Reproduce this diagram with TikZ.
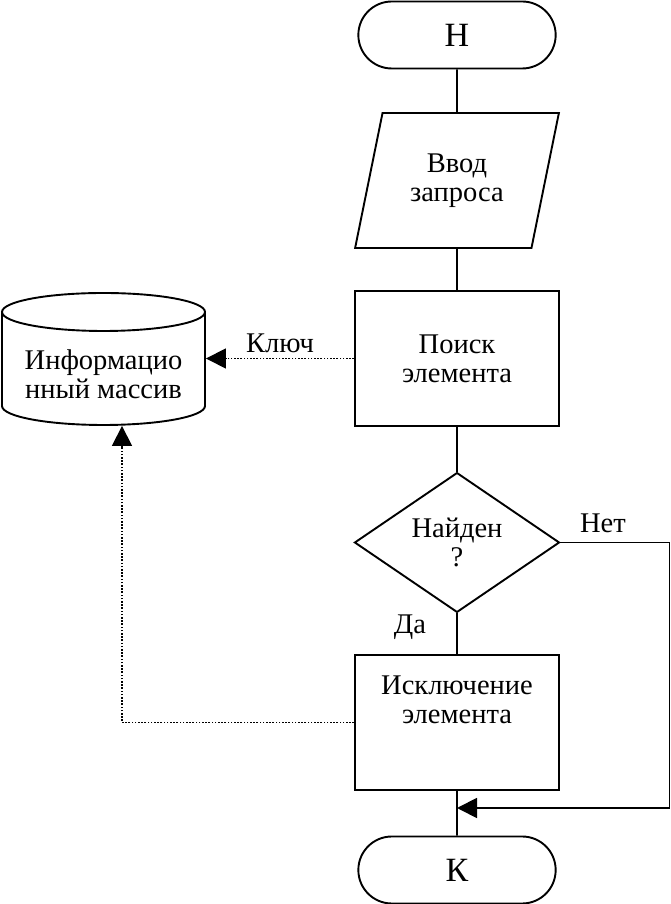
\documentclass[tikz,border=0pt]{standalone}
\usepackage{fontspec}
\setmainfont{Liberation Serif}
\usetikzlibrary{shapes.geometric, shapes.misc, arrows.meta}

\begin{document}
\begin{tikzpicture}[x=1pt, y=1pt, line width=1.9pt,
    every node/.style={font=\fontsize{28.5}{29}\selectfont, align=center},
    term/.style={draw, rounded rectangle, minimum width=204pt, minimum height=67pt, font=\fontsize{34}{36}\selectfont},
    proc/.style={draw, rectangle, minimum width=204pt, minimum height=135pt},
    io/.style={draw, trapezium, trapezium stretches=true, trapezium left angle=73, trapezium right angle=107, minimum width=204pt, minimum height=135pt},
    decision/.style={draw, diamond, inner sep=0pt, minimum width=205pt, minimum height=135pt},
    tip/.style={-{Triangle[length=20pt, width=20pt]}},
    link/.style={line width=1.6pt, dash pattern=on 1.6pt off 1.6pt}]
    \useasboundingbox (0, 0) rectangle (671, 904);

    % main flow
    \node[term] (start) at (457, 869) {Н};
    \node[io] (input) at (457, 723.5) {Ввод\\запроса};
    \node[proc] (search) at (457, 545.5) {Поиск\\элемента};
    \node[decision] (found) at (457, 361.5) {Найден\\?};
    \node[proc] (remove) at (457, 181.5) {Исключение\\элемента\\[16pt]\mbox{}};
    \node[term] (stop) at (457, 34) {К};

    \draw (start) -- (input);
    \draw (input) -- (search);
    \draw (search) -- (found);
    \draw (found) -- (remove);
    \draw (remove) -- (stop);

    \node (yes) at (410, 277) {Да};
    \node (no) at (603, 381) {Нет};

    % "no" branch
    \coordinate (merge) at (457, 96);
    \coordinate (corner) at (669.5, 96);
    \draw[tip] (found.east) -| (corner) -- (merge);

    % data store
    \node[minimum width=203pt, minimum height=102pt, inner sep=0pt] (db) at (103.5, 530) {Информацио\\нный массив};
    \draw (2, 592) -- (2, 498) arc[start angle=180, end angle=360, x radius=101.5, y radius=19] -- (205, 592);
    \draw (103.5, 592) ellipse[x radius=101.5, y radius=19];

    \node (key) at (280, 561) {Ключ};
    \draw[link, tip] (search.west) -- (db.east |- search.west);
    \draw[link, tip] (remove.west) -| ([xshift=18.5pt]db.south);
\end{tikzpicture}
\end{document}
